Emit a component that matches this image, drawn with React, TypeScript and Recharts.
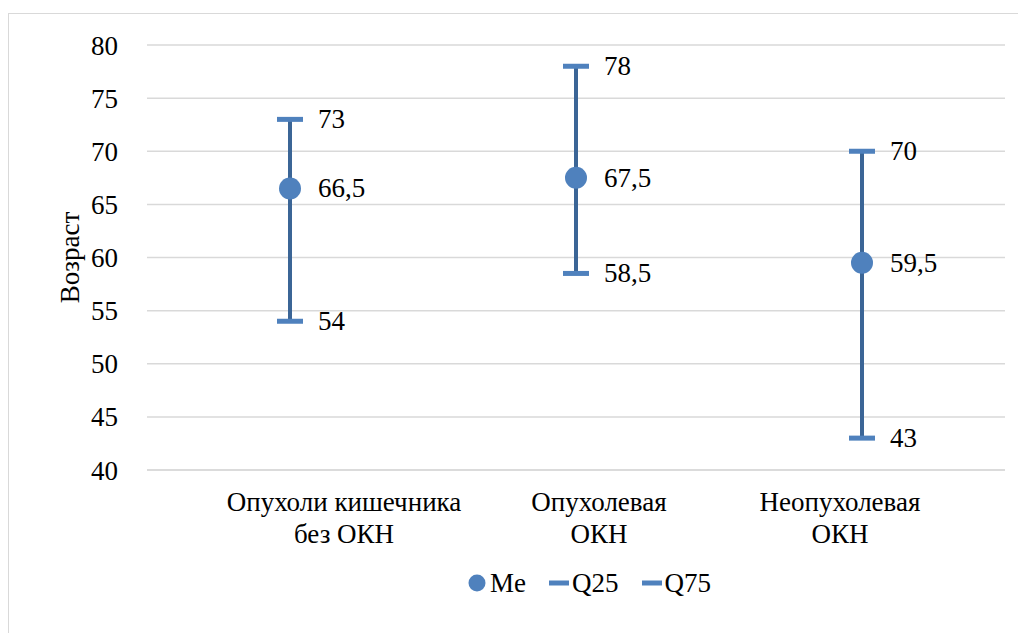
import React from 'react';
import { ComposedChart, Bar, Line, XAxis, YAxis, CartesianGrid, Legend } from 'recharts';

const categories = [
  ['Опухоли кишечника', 'без ОКН'],
  ['Опухолевая', 'ОКН'],
  ['Неопухолевая', 'ОКН'],
];
const me = [66.5, 67.5, 59.5];
const q25 = [54, 58.5, 43];
const q75 = [73, 78, 70];
const yTicks = [40, 45, 50, 55, 60, 65, 70, 75, 80];
const seriesNames = ['Me', 'Q25', 'Q75'];

// category labels in the source sit a little off-centre
const LABEL_SHIFT = [54, 23, -22];

const FONT = 'Liberation Serif, Tinos, Times New Roman, DejaVu Serif, serif';
const BLUE = '#4F81BD';
const DARK = '#3B6596';

const data = categories.map((c, i) => ({
  name: c.join(' '),
  lines: c,
  me: me[i],
  q25: q25[i],
  q75: q75[i],
  range: [q25[i], q75[i]],
}));

const fmt = (v: number) => String(v).replace('.', ',');

const CatTick = (props: any) => {
  const { x, y, index } = props;
  const lines = data[index].lines;
  const dx = LABEL_SHIFT[index] || 0;
  return (
    <g>
      {lines.map((l: string, i: number) => (
        <text key={i} x={x + dx} y={y + 33 + i * 32} textAnchor="middle" style={{ fontFamily: FONT }} fontSize={27} fill="#000">
          {l}
        </text>
      ))}
    </g>
  );
};

const Cap = (props: any) => {
  const { cx, cy } = props;
  if (cx == null || cy == null) return null;
  return <rect x={cx - 13} y={cy - 2.5} width={26} height={5} fill={BLUE} />;
};

const Dot = (props: any) => {
  const { cx, cy } = props;
  if (cx == null || cy == null) return null;
  return <circle cx={cx} cy={cy} r={11} fill={BLUE} />;
};

const ValueLabel = (props: any) => {
  const { x, y, value } = props;
  return (
    <text x={x + 28} y={y + 9} style={{ fontFamily: FONT }} fontSize={27} fill="#000">
      {fmt(value)}
    </text>
  );
};

const LegendContent = () => (
  <div style={{ display: 'flex', alignItems: 'center', paddingLeft: 459, fontFamily: FONT, fontSize: 27, height: 50 }}>
    {seriesNames.map((n, i) => (
      <div key={n} style={{ display: 'flex', alignItems: 'center', marginRight: 22 }}>
        <svg width={i === 0 ? 20 : 22} height={20} style={{ marginRight: 2 }}>
          {i === 0 ? <circle cx={9} cy={10} r={8.5} fill={BLUE} /> : <rect x={1} y={7.5} width={20} height={5} fill={BLUE} />}
        </svg>
        <span>{n}</span>
      </div>
    ))}
  </div>
);

export default function App() {
  return (
    <div style={{ width: 1009, borderLeft: '1px solid #d9d9d9', borderTop: '1px solid #d9d9d9', marginTop: 5, background: '#fff', fontFamily: FONT }}>
      <ComposedChart width={1008} height={619} data={data} margin={{ top: 31, right: 12, bottom: 25, left: 0 }} style={{ fontFamily: FONT }}>
        <CartesianGrid vertical={false} stroke="#d9d9d9" strokeWidth={1.5} />
        <XAxis
          dataKey="name"
          height={88}
          axisLine={{ stroke: '#d9d9d9', strokeWidth: 1.5 }}
          tickLine={false}
          tick={<CatTick />}
          interval={0}
        />
        <YAxis
          width={138}
          domain={[40, 80]}
          ticks={yTicks}
          axisLine={false}
          tickLine={false}
          tickSize={0}
          tickMargin={29}
          tick={{ style: { fontFamily: FONT }, fontSize: 27, fill: '#000' }}
          label={(p: any) => {
            const vb = p.viewBox;
            const cx = vb.x + 61;
            const cy = vb.y + vb.height / 2;
            return (
              <text x={cx} y={cy} transform={`rotate(-90 ${cx} ${cy})`} textAnchor="middle" dominantBaseline="central" style={{ fontFamily: FONT }} fontSize={27} fill="#000">
                Возраст
              </text>
            );
          }}
        />
        <Legend verticalAlign="bottom" height={50} content={<LegendContent />} />
        <Bar dataKey="range" barSize={4} fill={DARK} isAnimationActive={false} legendType="none" />
        <Line dataKey="q25" name="Q25" stroke="none" dot={<Cap />} activeDot={false} label={<ValueLabel />} isAnimationActive={false} />
        <Line dataKey="q75" name="Q75" stroke="none" dot={<Cap />} activeDot={false} label={<ValueLabel />} isAnimationActive={false} />
        <Line dataKey="me" name="Me" stroke="none" dot={<Dot />} activeDot={false} label={<ValueLabel />} isAnimationActive={false} />
      </ComposedChart>
    </div>
  );
}
